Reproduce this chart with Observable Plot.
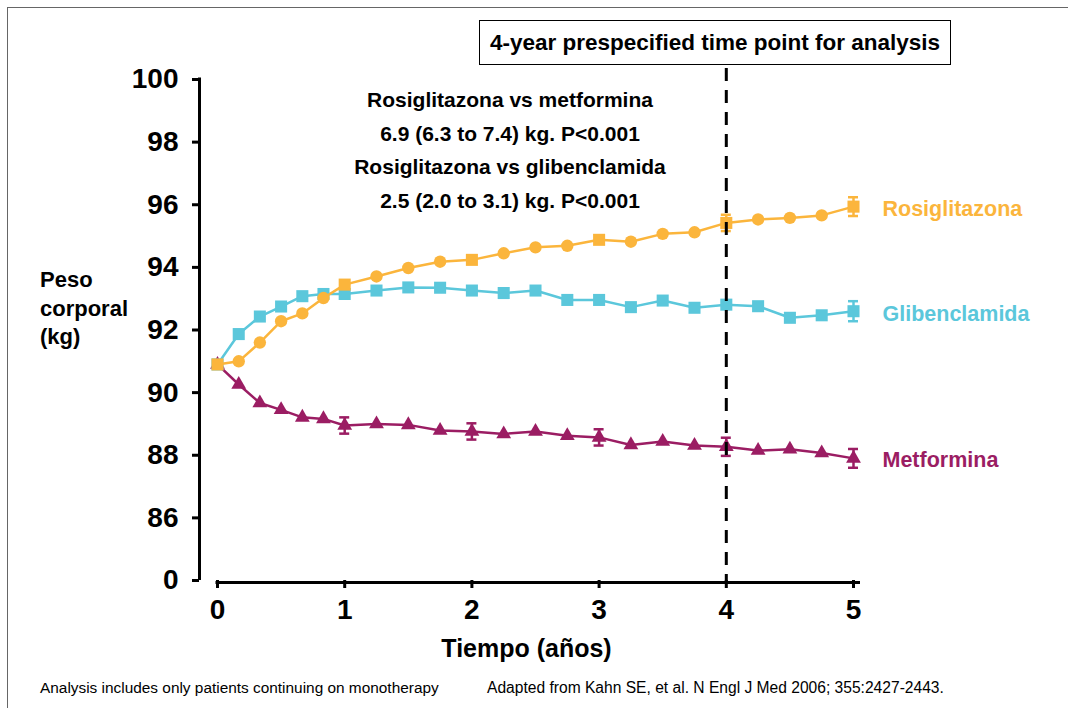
<!DOCTYPE html>
<html>
<head>
<meta charset="utf-8">
<script src="https://cdn.jsdelivr.net/npm/d3@7"></script>
<script src="https://cdn.jsdelivr.net/npm/@observablehq/plot@0.6"></script>
<style>
  html, body { margin: 0; padding: 0; background: #fff; overflow: hidden; }
  #wrap { position: relative; width: 1068px; height: 708px; overflow: hidden; }
  #frame { position: absolute; left: 7px; top: 7px; width: 1200px; height: 900px;
           border-left: 1.5px solid #666; border-top: 1.5px solid #666; }
  .nar { font-family: "Liberation Sans", Arial, sans-serif; font-weight: bold; color: #000; position: absolute; white-space: nowrap; }
  #box { left: 479px; top: 20px; width: 470px; height: 43px; border: 1.5px solid #000; font-size: 22.5px; line-height: 43px; text-align: center; }
  #annot { left: 310px; top: 83px; width: 400px; text-align: center; font-size: 21px; line-height: 33.5px; }
  #ylab { left: 40px; top: 266px; font-size: 22px; line-height: 28.5px; }
  #foot1 { left: 40px; top: 679px; font-size: 15.4px; font-weight: normal; }
  #foot2 { left: 487px; top: 679px; font-size: 15.6px; font-weight: normal; }
  svg { position: absolute; left: 0; top: 0; }
</style>
</head>
<body>
<div id="wrap">
  <div id="frame"></div>
  <div id="chart"></div>
  <div id="box" class="nar">4-year prespecified time point for analysis</div>
  <div id="annot" class="nar"></div>
  <div id="ylab" class="nar">Peso<br>corporal<br>(kg)</div>
  <div id="foot1" class="nar">Analysis includes only patients continuing on monotherapy</div>
  <div id="foot2" class="nar">Adapted from Kahn SE, et al. N Engl J Med 2006; 355:2427-2443.</div>
</div>
<script>
// ---- data ----
const times = [0, 0.167, 0.333, 0.5, 0.667, 0.833, 1, 1.25, 1.5, 1.75, 2, 2.25, 2.5, 2.75, 3, 3.25, 3.5, 3.75, 4, 4.25, 4.5, 4.75, 5];
const rosiglitazona = [90.9, 91.0, 91.6, 92.28, 92.53, 93.02, 93.45, 93.71, 93.98, 94.18, 94.24, 94.45, 94.64, 94.69, 94.88, 94.82, 95.07, 95.12, 95.42, 95.53, 95.58, 95.66, 95.94];
const glibenclamida = [90.9, 91.87, 92.43, 92.75, 93.08, 93.15, 93.15, 93.26, 93.36, 93.35, 93.26, 93.18, 93.26, 92.96, 92.96, 92.73, 92.94, 92.71, 92.81, 92.76, 92.39, 92.47, 92.6];
const metformina = [90.9, 90.26, 89.67, 89.45, 89.21, 89.16, 88.95, 89.0, 88.97, 88.79, 88.76, 88.68, 88.76, 88.62, 88.57, 88.33, 88.44, 88.31, 88.27, 88.15, 88.19, 88.07, 87.9];
const rosiSquareTimes = [0, 1, 2, 3, 4, 5];
const rosiErrTimes = [4, 5];
const rosiErr = [0.26, 0.3];
const glibErrTimes = [5];
const glibErr = [0.32];
const metfErrTimes = [1, 2, 3, 4, 5];
const metfErr = [0.26, 0.26, 0.26, 0.29, 0.3];
const seriesNames = ["Rosiglitazona", "Glibenclamida", "Metformina"];
const seriesColors = ["#FBB53C", "#5BC7DB", "#9B1D63"];
const yTicks = [84, 86, 88, 90, 92, 94, 96, 98, 100];
const yTickLabels = ["0", "86", "88", "90", "92", "94", "96", "98", "100"];
const xTicks = [0, 1, 2, 3, 4, 5];
const analysisTime = 4;
const annotationLines = [
  "Rosiglitazona vs metformina",
  "6.9 (6.3 to 7.4) kg. P<0.001",
  "Rosiglitazona vs glibenclamida",
  "2.5 (2.0 to 3.1) kg. P<0.001"
];
const xTitle = "Tiempo (años)";

document.getElementById("annot").innerHTML = annotationLines.join("<br>");

const rows = vals => times.map((t, i) => ({t, v: vals[i]}));
const errRows = (vals, ets, errs) => ets.map((t, i) => {
  const v = vals[times.indexOf(t)];
  return {t, v, lo: v - errs[i], hi: v + errs[i]};
});

const R = rows(rosiglitazona), G = rows(glibenclamida), M = rows(metformina);
const RE = errRows(rosiglitazona, rosiErrTimes, rosiErr);
const GE = errRows(glibenclamida, glibErrTimes, glibErr);
const ME = errRows(metformina, metfErrTimes, metfErr);

const SANS = '"Liberation Sans", Arial, sans-serif';

function errMarks(E, color) {
  return [
    Plot.ruleX(E, {x: "t", y1: "lo", y2: "hi", stroke: color, strokeWidth: 2.5}),
    Plot.ruleY(E, {y: "lo", x1: "t", x2: "t", insetLeft: -5, insetRight: -5, stroke: color, strokeWidth: 2.5}),
    Plot.ruleY(E, {y: "hi", x1: "t", x2: "t", insetLeft: -5, insetRight: -5, stroke: color, strokeWidth: 2.5})
  ];
}

const last = arr => [{t: times[times.length - 1], v: arr[arr.length - 1]}];

const chart = Plot.plot({
  width: 1068,
  height: 708,
  marginLeft: 217,
  marginRight: 215,
  marginTop: 79,
  marginBottom: 128,
  style: {fontFamily: SANS, background: "transparent"},
  x: {domain: [0, 5]},
  y: {domain: [84, 100]},
  marks: [
    // axes
    Plot.ruleX([0], {dx: -18, insetTop: -1.5, stroke: "#000", strokeWidth: 3}),
    Plot.axisY({ticks: yTicks, tickFormat: d => yTickLabels[yTicks.indexOf(d)], dx: -18, tickSize: 7, tickPadding: 14,
                strokeWidth: 3, fontSize: 28, fontWeight: "bold", fill: "#000", label: null}),
    Plot.ruleY([84], {x1: 0, x2: 5, insetLeft: -1.5, insetRight: -7, dy: 2, stroke: "#000", strokeWidth: 3}),
    Plot.axisX({ticks: xTicks, tickFormat: d => String(d), tickSize: 8, tickPadding: 11, strokeWidth: 3, fontSize: 28, fontWeight: "bold", fill: "#000", label: null}),
    Plot.text([xTitle], {frameAnchor: "bottom", dy: 68, dx: -9, fontWeight: "bold", fontSize: 25, fill: "#000", lineAnchor: "middle"}),
    // Metformina
    Plot.line(M, {x: "t", y: "v", stroke: seriesColors[2], strokeWidth: 2.5}),
    ...errMarks(ME, seriesColors[2]),
    Plot.dot(M, {x: "t", y: "v", symbol: "triangle", r: 5.5, fill: seriesColors[2]}),
    // Glibenclamida
    Plot.line(G, {x: "t", y: "v", stroke: seriesColors[1], strokeWidth: 2.5}),
    ...errMarks(GE, seriesColors[1]),
    Plot.dot(G, {x: "t", y: "v", symbol: "square", r: 6.8, fill: seriesColors[1]}),
    // Rosiglitazona
    Plot.line(R, {x: "t", y: "v", stroke: seriesColors[0], strokeWidth: 2.5}),
    ...errMarks(RE, seriesColors[0]),
    Plot.dot(R.filter(d => !rosiSquareTimes.includes(d.t)), {x: "t", y: "v", symbol: "circle", r: 6.2, fill: seriesColors[0]}),
    Plot.dot(R.filter(d => rosiSquareTimes.includes(d.t)), {x: "t", y: "v", symbol: "square", r: 6.8, fill: seriesColors[0]}),
    // series labels
    Plot.text(last(rosiglitazona), {x: "t", y: "v", text: () => seriesNames[0], dx: 29, dy: 2, textAnchor: "start", fill: seriesColors[0], fontWeight: "bold", fontSize: 21.5}),
    Plot.text(last(glibenclamida), {x: "t", y: "v", text: () => seriesNames[1], dx: 29, dy: 3, textAnchor: "start", fill: seriesColors[1], fontWeight: "bold", fontSize: 21.5}),
    Plot.text(last(metformina), {x: "t", y: "v", text: () => seriesNames[2], dx: 29, dy: 2, textAnchor: "start", fill: seriesColors[2], fontWeight: "bold", fontSize: 21.5}),
    // analysis time point
    Plot.ruleX([analysisTime], {insetTop: -11, insetBottom: -2, stroke: "#000", strokeWidth: 3, strokeDasharray: "13,9"})
  ]
});
document.getElementById("chart").appendChild(chart);
</script>
</body>
</html>
